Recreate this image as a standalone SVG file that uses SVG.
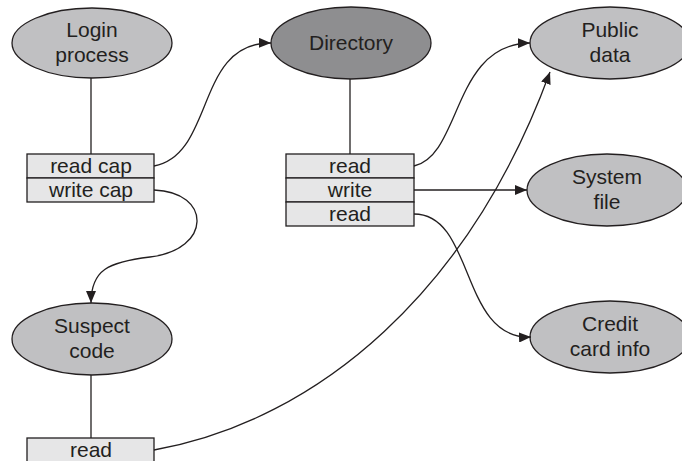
<svg xmlns="http://www.w3.org/2000/svg" width="682" height="461" viewBox="0 0 682 461">
<defs>
<style>
.node ellipse{fill:#c0c0c2;stroke:#231f20;stroke-width:1.3}
.node.dark ellipse{fill:#8e8e90}
.node text,.cap text{font-family:"Liberation Sans",Arial,sans-serif;font-size:21px;fill:#231f20;text-anchor:middle}
.cap rect{fill:#e6e6e7;stroke:#231f20;stroke-width:1.3}
.stem{stroke:#231f20;stroke-width:1.3;fill:none}
#connectors path{fill:none;stroke:#231f20;stroke-width:1.3}
.arr{marker-end:url(#ah)}
</style>
<marker id="ah" viewBox="0 0 12 10" refX="12" refY="5" markerWidth="12" markerHeight="10" markerUnits="userSpaceOnUse" orient="auto">
<path d="M0,0 L12,5 L0,10 Z" fill="#231f20"/>
</marker>
</defs>
<rect width="682" height="461" fill="#ffffff"/>

<g id="login">
<g class="node"><ellipse cx="92" cy="43" rx="80" ry="35"/>
<text x="92" y="37">Login</text><text x="92" y="62">process</text></g>
<line class="stem" x1="91" y1="78" x2="91" y2="154"/>
<g class="cap"><rect x="27" y="154" width="127" height="24"/><rect x="27" y="178" width="127" height="24"/>
<text x="91" y="173">read cap</text><text x="91" y="197">write cap</text></g>
</g>

<g id="directory">
<g class="node dark"><ellipse cx="351" cy="43" rx="80" ry="36"/>
<text x="351" y="50">Directory</text></g>
<line class="stem" x1="350" y1="79" x2="350" y2="154"/>
<g class="cap"><rect x="286" y="154" width="128" height="24"/><rect x="286" y="178" width="128" height="24"/><rect x="286" y="202" width="128" height="24"/>
<text x="350" y="173">read</text><text x="350" y="197">write</text><text x="350" y="221">read</text></g>
</g>

<g id="public-data" class="node"><ellipse cx="610" cy="43" rx="80" ry="36"/>
<text x="610" y="37">Public</text><text x="610" y="62">data</text></g>

<g id="system-file" class="node"><ellipse cx="607" cy="190" rx="80" ry="36"/>
<text x="607" y="184">System</text><text x="607" y="209">file</text></g>

<g id="credit-card" class="node"><ellipse cx="610" cy="337" rx="80" ry="36"/>
<text x="610" y="331">Credit</text><text x="610" y="356">card info</text></g>

<g id="suspect">
<g class="node"><ellipse cx="92" cy="339" rx="80" ry="36"/>
<text x="92" y="333">Suspect</text><text x="92" y="358">code</text></g>
<line class="stem" x1="91" y1="375" x2="91" y2="438"/>
<g class="cap"><rect x="27" y="438" width="127" height="30"/>
<text x="91" y="457">read</text></g>
</g>

<g id="connectors">
<path class="arr" d="M154,166 C215,155 195,42 271,43"/>
<path class="arr" d="M154,190 C212,192 212,250 150,257 C108,262 91,270 91,303"/>
<path class="arr" d="M414,166 C462,155 452,44 530,43"/>
<path class="arr" d="M414,190 L527,190"/>
<path class="arr" d="M414,214 C475,214 460,340 531,337"/>
<path class="arr" d="M154,450 C320,420 470,290 550,72"/>
</g>
</svg>
